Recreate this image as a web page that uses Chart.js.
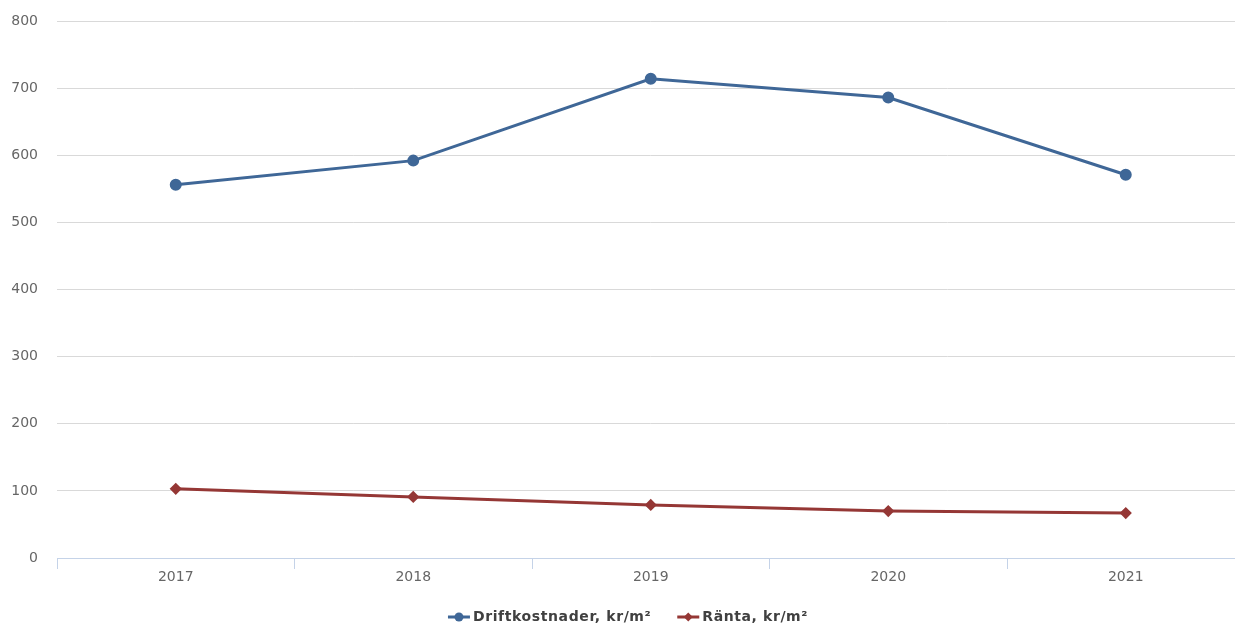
<!DOCTYPE html>
<html>
<head>
<meta charset="utf-8">
<script src="https://cdn.jsdelivr.net/npm/chart.js@4.4.0/dist/chart.umd.min.js"></script>
<style>
  html, body { margin: 0; padding: 0; background: #fff; overflow: hidden; }
  #chart { position: absolute; left: 0; top: 0; }
</style>
</head>
<body>
<canvas id="chart" width="1252" height="627"></canvas>
<script>
const years = ['2017', '2018', '2019', '2020', '2021'];
const driftkostnader = [556, 592, 714, 686, 571];
const ranta = [103, 91, 79, 70, 67];
const yTicks = [0, 100, 200, 300, 400, 500, 600, 700, 800];

const BLUE = '#3f6797';
const RED = '#953735';

// legend drawn below the axis: line + marker, then bold label
const bottomLegend = {
    id: 'bottomLegend',
    afterDraw(chart) {
        const g = chart.ctx;
        const y = 617;
        g.save();
        g.font = 'bold 14px "DejaVu Sans"';
        g.letterSpacing = '0.6px';
        const items = chart.data.datasets.map(ds => ({ ds, w: g.measureText(ds.label).width }));
        const gap = 26, icon = 22, space = 3;
        const total = items.reduce((s, it) => s + icon + space + it.w, 0) + gap * (items.length - 1);
        let x = chart.width / 2 + 2 - total / 2;
        items.forEach(({ ds, w }) => {
            g.strokeStyle = ds.borderColor;
            g.fillStyle = ds.borderColor;
            g.lineWidth = 3;
            g.beginPath(); g.moveTo(x, y); g.lineTo(x + icon, y); g.stroke();
            g.beginPath();
            const cx = x + icon / 2;
            if (ds.pointStyle === 'circle') {
                g.arc(cx, y, 4.5, 0, Math.PI * 2);
            } else {
                g.moveTo(cx, y - 4.5); g.lineTo(cx + 4.5, y); g.lineTo(cx, y + 4.5); g.lineTo(cx - 4.5, y); g.closePath();
            }
            g.fill();
            x += icon + space;
            g.fillStyle = '#404040';
            g.textBaseline = 'middle';
            g.textAlign = 'left';
            g.fillText(ds.label, x, y);
            x += w + gap;
        });
        g.restore();
    }
};

const ctx = document.getElementById('chart').getContext('2d');
new Chart(ctx, {
    type: 'line',
    data: {
        labels: years,
        datasets: [
            {
                label: 'Driftkostnader, kr/m²',
                data: driftkostnader,
                borderColor: BLUE,
                backgroundColor: BLUE,
                borderWidth: 3,
                pointStyle: 'circle',
                pointRadius: 4.5,
                pointHoverRadius: 4.5,
                tension: 0
            },
            {
                label: 'Ränta, kr/m²',
                data: ranta,
                borderColor: RED,
                backgroundColor: RED,
                borderWidth: 3,
                pointStyle: 'rectRot',
                pointRadius: 4,
                pointHoverRadius: 4,
                tension: 0
            }
        ]
    },
    plugins: [bottomLegend],
    options: {
        responsive: false,
        animation: false,
        layout: { padding: { top: 21, right: 2, bottom: 30, left: 0 } },
        plugins: {
            tooltip: { enabled: false },
            legend: { display: false }
        },
        scales: {
            x: {
                offset: true,
                afterFit: scale => { scale.height = 39; },
                grid: {
                    offset: true,
                    drawOnChartArea: false,
                    drawTicks: true,
                    tickLength: 11,
                    color: '#c5d3e8'
                },
                border: { display: true, color: '#c5d3e8', width: 1 },
                ticks: {
                    color: '#666666',
                    padding: 0,
                    font: { family: 'DejaVu Sans', size: 14 }
                }
            },
            y: {
                min: 0,
                max: 800,
                afterBuildTicks: scale => { scale.ticks = yTicks.map(v => ({ value: v })); },
                afterFit: scale => {
                    scale.width = 57;
                    scale.paddingTop = 0;
                    scale.paddingBottom = 0;
                },
                grid: { color: '#d9d9d9', drawTicks: false },
                border: { display: false },
                ticks: {
                    color: '#666666',
                    padding: 19,
                    font: { family: 'DejaVu Sans', size: 14 }
                }
            }
        }
    }
});
</script>
</body>
</html>
